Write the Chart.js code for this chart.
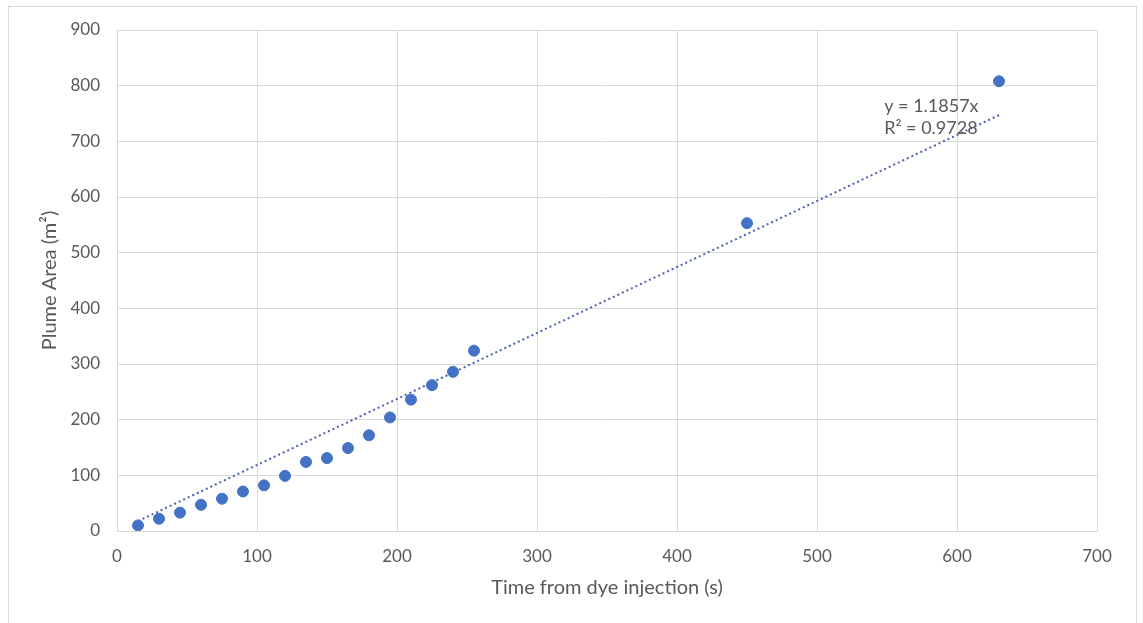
<!DOCTYPE html>
<html>
<head>
<meta charset="utf-8">
<script src="https://cdn.jsdelivr.net/npm/chart.js@4.4.1/dist/chart.umd.min.js"></script>
<style>
  html, body { margin: 0; padding: 0; background: #ffffff; }
  #wrap { width: 1143px; height: 623px; }
</style>
</head>
<body>
<div id="wrap"><canvas id="c" width="1143" height="623"></canvas></div>
<script>
// ---- data ----
const timeS = [15, 30, 45, 60, 75, 90, 105, 120, 135, 150, 165, 180, 195, 210, 225, 240, 255, 450, 630];
const plumeArea = [10, 22, 33, 47, 58, 71, 82, 99, 124, 131, 149, 172, 204, 236, 262, 286, 324, 553, 808];
// trendline (y = 1.1857x) endpoints over the data range
const trendX = [15, 630];
const trendY = [17.8, 747.0];
const trendLabels = ['y = 1.1857x', 'R\u00B2 = 0.9728'];
const xTicks = [0, 100, 200, 300, 400, 500, 600, 700];
const yTicks = [0, 100, 200, 300, 400, 500, 600, 700, 800, 900];
const xTitle = 'Time from dye injection (s)';
const yTitle = 'Plume Area (m\u00B2)';

const FONT = 'Lato';
const TXT = '#595959';
const GRID = '#d9d9d9';

const bgPlugin = {
  id: 'bg',
  beforeDraw(chart) {
    const ctx = chart.ctx;
    ctx.save();
    ctx.fillStyle = '#ffffff';
    ctx.fillRect(0, 0, chart.width, chart.height);
    ctx.strokeStyle = '#d9d9d9';
    ctx.lineWidth = 1;
    ctx.strokeRect(8.5, 6.5, 1128, 640);
    ctx.restore();
  }
};

const trendTextPlugin = {
  id: 'trendText',
  afterDatasetsDraw(chart) {
    const ctx = chart.ctx;
    const xs = chart.scales.x, ys = chart.scales.y;
    const x0 = xs.getPixelForValue(548);
    const y0 = ys.getPixelForValue(763);
    const y1 = ys.getPixelForValue(724.5);
    ctx.save();
    ctx.font = '18px ' + FONT;
    ctx.fillStyle = TXT;
    ctx.textAlign = 'left';
    ctx.textBaseline = 'middle';
    ctx.fillText(trendLabels[0], x0, y0);
    ctx.fillText(trendLabels[1], x0, y1);
    ctx.restore();
  }
};

new Chart(document.getElementById('c'), {
  type: 'scatter',
  data: {
    datasets: [
      {
        label: 'Plume area',
        data: timeS.map((t, i) => ({ x: t, y: plumeArea[i] })),
        backgroundColor: '#4472C4',
        borderColor: '#4472C4',
        borderWidth: 1,
        pointRadius: 5.5,
        pointHoverRadius: 5.5
      },
      {
        label: 'Trend',
        data: trendX.map((t, i) => ({ x: t, y: trendY[i] })),
        showLine: true,
        borderColor: '#4a62ad',
        borderWidth: 2,
        borderDash: [2, 3],
        pointRadius: 0,
        fill: false
      }
    ]
  },
  options: {
    responsive: false,
    animation: false,
    devicePixelRatio: 1,
    layout: { padding: { left: 0, top: 30, right: 46, bottom: 0 } },
    plugins: { legend: { display: false }, tooltip: { enabled: false } },
    scales: {
      x: {
        type: 'linear',
        min: 0, max: 700,
        afterBuildTicks(s) { s.ticks = xTicks.map(v => ({ value: v })); },
        afterFit(s) { s.height = 92; },
        grid: { color: GRID, lineWidth: 1, drawTicks: false },
        border: { color: GRID, width: 1 },
        ticks: { color: TXT, font: { family: FONT, size: 17 }, padding: 15, maxRotation: 0 },
        title: { display: true, text: xTitle, color: TXT, font: { family: FONT, size: 20 }, padding: { top: 0, bottom: 23 } }
      },
      y: {
        type: 'linear',
        min: 0, max: 900,
        afterBuildTicks(s) { s.ticks = yTicks.map(v => ({ value: v })); },
        afterFit(s) { s.width = 117; },
        grid: { color: GRID, lineWidth: 1, drawTicks: false },
        border: { color: GRID, width: 1 },
        ticks: { color: TXT, font: { family: FONT, size: 17 }, padding: 17 },
        title: { display: true, text: yTitle, color: TXT, font: { family: FONT, size: 20 }, padding: { top: 38, bottom: 0 } }
      }
    }
  },
  plugins: [bgPlugin, trendTextPlugin]
});
</script>
</body>
</html>
